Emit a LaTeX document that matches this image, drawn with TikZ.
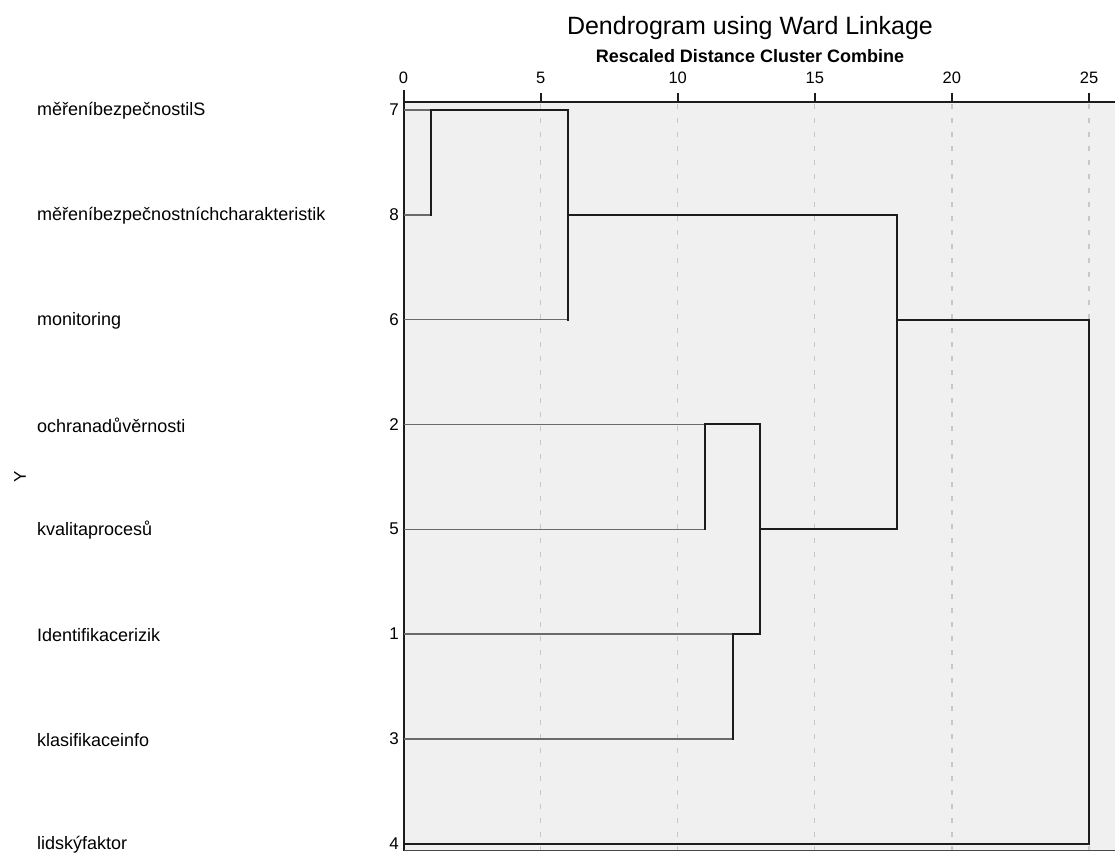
\documentclass[tikz,border=0pt]{standalone}
\usepackage{fontspec}
\setmainfont{Liberation Sans}
\definecolor{plotbg}{HTML}{F0F0F0}
\definecolor{gridc}{HTML}{C8C8C8}
\definecolor{leafc}{HTML}{6A6A6A}
\definecolor{clusc}{HTML}{1C1C1C}
\tikzset{
  leafline/.style={draw=leafc, line width=1.3pt},
  clusline/.style={draw=clusc, line width=2pt, line cap=rect},
  axisline/.style={draw=clusc, line width=2pt},
  gridline/.style={draw=gridc, line width=1.3pt, dash pattern=on 5pt off 9pt},
  varlabel/.style={anchor=west, inner sep=0pt, font=\fontsize{18}{20}\selectfont},
  numlabel/.style={anchor=east, inner sep=0pt, font=\fontsize{17}{19}\selectfont},
  ticklabel/.style={inner sep=0pt, font=\fontsize{16.5}{18}\selectfont},
}
\begin{document}
\begin{tikzpicture}[x=1pt, y=-1pt]
\useasboundingbox (0,0) rectangle (1115,853);
\fill[white] (0,0) rectangle (1115,853);
% titles
\node[inner sep=0pt, font=\fontsize{25}{27}\selectfont] (title) at (750,28) {Dendrogram using Ward Linkage};
\node[inner sep=0pt, font=\bfseries\fontsize{18}{20}\selectfont] (subtitle) at (750,56) {Rescaled Distance Cluster Combine};
% Y axis title
\node[inner sep=0pt, rotate=90, font=\fontsize{17}{19}\selectfont] (ytitle) at (20,477) {Y};
% variable labels
\node[varlabel] (v7) at (37,111) {měřeníbezpečnostilS};
\node[varlabel] (v8) at (37,216) {měřeníbezpečnostníchcharakteristik};
\node[varlabel] (v6) at (37,320.5) {monitoring};
\node[varlabel] (v2) at (37,425.3) {ochranadůvěrnosti};
\node[varlabel] (v5) at (37,530.2) {kvalitaprocesů};
\node[varlabel] (v1) at (37,635) {Identifikacerizik};
\node[varlabel] (v3) at (37,740) {klasifikaceinfo};
\node[varlabel] (v4) at (37,844.5) {lidskýfaktor};
\node[numlabel] (n7) at (399,110) {7};
\node[numlabel] (n8) at (399,215) {8};
\node[numlabel] (n6) at (399,319.5) {6};
\node[numlabel] (n2) at (399,424.3) {2};
\node[numlabel] (n5) at (399,529.2) {5};
\node[numlabel] (n1) at (399,634) {1};
\node[numlabel] (n3) at (399,739) {3};
\node[numlabel] (n4) at (399,843.5) {4};
\begin{scope}[shift={(403.5pt,0pt)}, x=27.42pt, y=-1pt]
  \fill[plotbg] (0,102.5) rectangle (26.1,850.7);
  % grid
  \foreach \g in {5,10,15,20,25} {
    \draw[gridline] (\g,104) -- (\g,850);
  }
  % tick labels and ticks
  \foreach \g in {0,5,10,15,20,25} {
    \node[ticklabel] (t\g) at (\g,78) {\g};
    \draw[axisline] (\g,93) -- (\g,102.5);
  }
  % axes
  \draw[axisline] (0,102.5) -- (26.1,102.5);
  \draw[axisline] (0,90) -- (0,850.7);
  \draw[draw=clusc!80, line width=1.5pt] (0,850.7) -- (26.1,850.7);
  % leaf anchors
  \coordinate (a7) at (0,110);
  \coordinate (a8) at (0,215);
  \coordinate (a6) at (0,319.5);
  \coordinate (a2) at (0,424.3);
  \coordinate (a5) at (0,529.2);
  \coordinate (a1) at (0,634);
  \coordinate (a3) at (0,739);
  \coordinate (a4) at (0,843.5);
  % merge points
  \coordinate (m78t) at (1,110);
  \coordinate (m78b) at (1,215);
  \coordinate (m786t) at (6,110);
  \coordinate (m786m) at (6,215);
  \coordinate (m786b) at (6,319.5);
  \coordinate (m25t) at (11,424.3);
  \coordinate (m25b) at (11,529.2);
  \coordinate (m13t) at (12,634);
  \coordinate (m13b) at (12,739);
  \coordinate (mBt) at (13,424.3);
  \coordinate (mBm) at (13,529.2);
  \coordinate (mBb) at (13,634);
  \coordinate (mCt) at (18,215);
  \coordinate (mCm) at (18,319.5);
  \coordinate (mCb) at (18,529.2);
  \coordinate (mDt) at (25,319.5);
  \coordinate (mDb) at (25,843.5);
  % leaf lines
  \draw[leafline] (a7) -- (m78t);
  \draw[leafline] (a8) -- (m78b);
  \draw[leafline] (a6) -- (m786b);
  \draw[leafline] (a2) -- (m25t);
  \draw[leafline] (a5) -- (m25b);
  \draw[leafline] (a1) -- (m13t);
  \draw[leafline] (a3) -- (m13b);
  % cluster lines
  \draw[clusline] (m78b) -- (m78t) -- (m786t) -- (m786b);
  \draw[clusline] (m786m) -- (mCt);
  \draw[clusline] (m25b) -- (m25t) -- (mBt);
  \draw[clusline] (m13b) -- (m13t) -- (mBb);
  \draw[clusline] (mBt) -- (mBb);
  \draw[clusline] (mBm) -- (mCb);
  \draw[clusline] (mCt) -- (mCb);
  \draw[clusline] (mCm) -- (mDt);
  \draw[clusline] (a4) -- (mDb) -- (mDt);
\end{scope}
\end{tikzpicture}
\end{document}
